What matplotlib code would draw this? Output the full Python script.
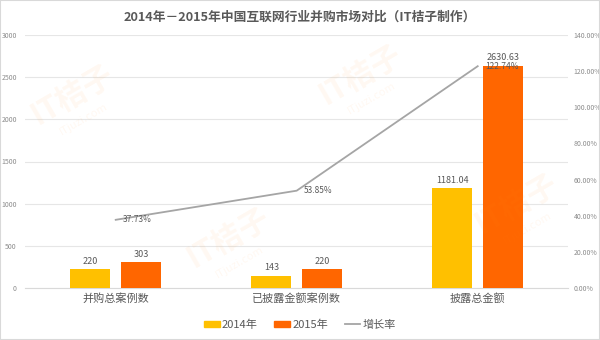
import matplotlib
matplotlib.use("Agg")
from matplotlib import pyplot as plt
from matplotlib.patches import Rectangle
import numpy as np

plt.rcParams['font.family'] = ['Noto Sans CJK SC', 'DejaVu Sans']

categories = ["并购总案例数", "已披露金额案例数", "披露总金额"]
values_2014 = [220, 143, 1181.04]
values_2015 = [303, 220, 2630.63]
growth_rate = [37.73, 53.85, 122.74]
bar_labels_2014 = ["220", "143", "1181.04"]
bar_labels_2015 = ["303", "220", "2630.63"]
left_ticks = [0, 500, 1000, 1500, 2000, 2500, 3000]
right_ticks = [0, 20, 40, 60, 80, 100, 120, 140]

c2014 = "#FFC000"
c2015 = "#FF6600"
cline = "#A5A5A5"
ctext = "#595959"
ctick = "#8C8C8C"
cgrid = "#E6E6E6"

fig = plt.figure(figsize=(6, 3.4), dpi=100)
ax = fig.add_axes([0.042, 0.153, 0.905, 0.744])
ax2 = ax.twinx()

x = np.arange(len(categories))
w = 0.22
off = 0.14
ax.bar(x - off, values_2014, w, color=c2014, zorder=3)
ax.bar(x + off, values_2015, w, color=c2015, zorder=3)
for xi, v, s in zip(x, values_2014, bar_labels_2014):
    ax.text(xi - off, v + 45, s, ha="center", va="bottom", fontsize=6.5, color=ctext, zorder=5)
for xi, v, s in zip(x, values_2015, bar_labels_2015):
    ax.text(xi + off, v + 45, s, ha="center", va="bottom", fontsize=6.5, color=ctext, zorder=5)

ax.set_xlim(-0.5, 2.5)
ax.set_ylim(0, 3000)
ax.set_yticks(left_ticks)
ax.set_yticklabels([str(t) for t in left_ticks])
ax.set_xticks(x)
ax.set_xticklabels(categories)
ax.tick_params(axis="x", length=0, labelsize=8, colors=ctext, pad=4)
ax.tick_params(axis="y", length=0, labelsize=5, colors=ctick, pad=6)
ax.grid(axis="y", color=cgrid, linewidth=0.8, zorder=0)
for sp in ax.spines.values():
    sp.set_visible(False)
ax.spines["bottom"].set_visible(True)
ax.spines["bottom"].set_color("#D9D9D9")

ax2.plot(x, growth_rate, color=cline, linewidth=1.3, zorder=4)
for xi, g in zip(x, growth_rate):
    ax2.text(xi + 0.04, g, "%.2f%%" % g, ha="left", va="center", fontsize=6, color=ctext, zorder=5)
ax2.set_ylim(0, 140)
ax2.set_yticks(right_ticks)
ax2.set_yticklabels(["%.2f%%" % t for t in right_ticks])
ax2.tick_params(axis="y", length=0, labelsize=5, colors=ctick, pad=4)
for sp in ax2.spines.values():
    sp.set_visible(False)

# faint IT桔子 watermarks
for wx, wy in [(0.12, 0.72), (0.38, 0.30), (0.60, 0.78), (0.86, 0.40)]:
    fig.text(wx, wy, "IT桔子", fontsize=22, color="#FF8C1A", alpha=0.06,
             rotation=30, ha="center", va="center", fontweight="bold", zorder=0)
    fig.text(wx + 0.02, wy - 0.07, "ITjuzi.com", fontsize=8, color="#FF8C1A", alpha=0.06,
             rotation=30, ha="center", va="center", zorder=0)

fig.text(0.5, 0.95, "2014年－2015年中国互联网行业并购市场对比（IT桔子制作）",
         ha="center", va="center", fontsize=9.2, color=ctext, fontweight="bold")

# legend
handles = [Rectangle((0, 0), 1, 1, color=c2014), Rectangle((0, 0), 1, 1, color=c2015),
           plt.Line2D([0], [0], color=cline, linewidth=1.3)]
fig.legend(handles, ["2014年", "2015年", "增长率"], loc="center", bbox_to_anchor=(0.5, 0.045),
           ncol=3, frameon=False, fontsize=8, labelcolor=ctext, handlelength=1.4,
           handleheight=0.5, handletextpad=0.2, columnspacing=1.5)

fig.patches.append(Rectangle((0, 0), 1, 1, transform=fig.transFigure, fill=False,
                             edgecolor="#D9D9D9", linewidth=1.5))

fig.savefig("out.png", dpi=100)
